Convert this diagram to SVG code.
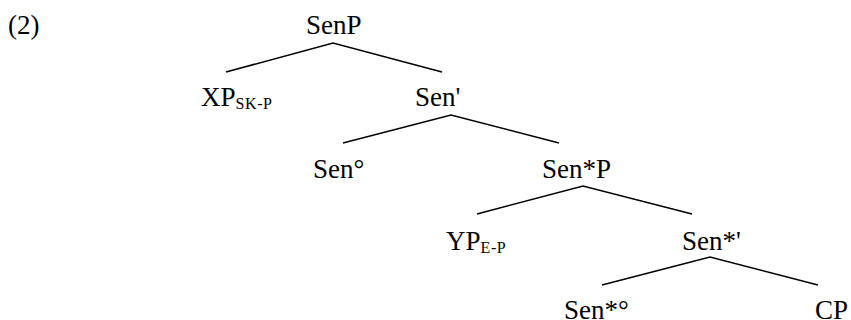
<svg xmlns="http://www.w3.org/2000/svg" width="851" height="320" viewBox="0 0 851 320">
<style>
.t{font-family:"Liberation Serif","Times New Roman",serif;font-size:27px;fill:#000}
.s{font-size:16px;letter-spacing:0.6px}
.e{fill:none;stroke:#000;stroke-width:1.5}
</style>
<rect width="851" height="320" fill="#fff"/>
<text class="t" x="8" y="34">(2)</text>
<g id="connectors">
<polyline class="e" points="226,72 333,43 442,72"/>
<polyline class="e" points="343,143 451,115 559,143"/>
<polyline class="e" points="477,214 583,186 692,214"/>
<polyline class="e" points="602,285 710,257 818,285"/>
</g>
<g id="SenP"><text class="t" x="306" y="34">SenP</text></g>
<g id="XP"><text class="t" x="201" y="106">XP<tspan class="s" dy="3">SK-P</tspan></text></g>
<g id="SenBar"><text class="t" x="415" y="106">Sen'</text></g>
<g id="SenHead"><text class="t" x="313" y="178">Sen°</text></g>
<g id="SenStarP"><text class="t" x="542" y="178">Sen*P</text></g>
<g id="YP"><text class="t" x="446" y="250">YP<tspan class="s" dy="3">E-P</tspan></text></g>
<g id="SenStarBar"><text class="t" x="682" y="250">Sen*'</text></g>
<g id="SenStarHead"><text class="t" x="564" y="319">Sen*°</text></g>
<g id="CP"><text class="t" x="815" y="319">CP</text></g>
</svg>
